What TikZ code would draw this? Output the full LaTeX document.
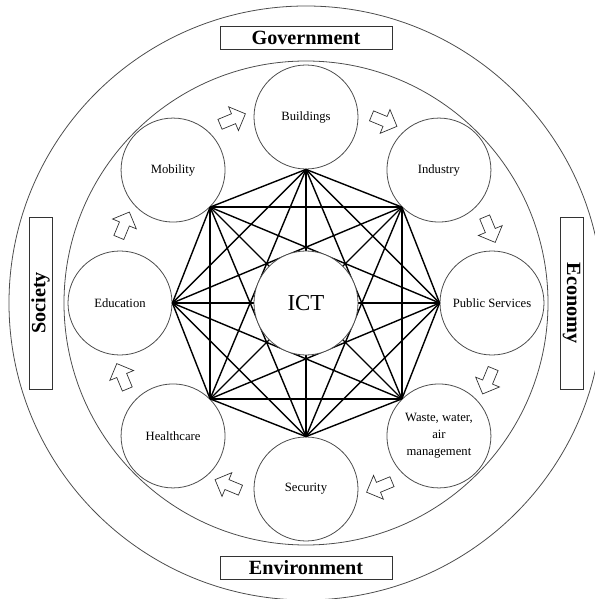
\documentclass[tikz,border=0pt]{standalone}
\usepackage{fontspec}
\setmainfont{Liberation Serif}
\usetikzlibrary{shapes.arrows}

\begin{document}
\begin{tikzpicture}[semithick, every node/.style={inner sep=0pt},
		area/.style={circle, draw=black!70, line width=0.45pt, fill=white, minimum size=2.08cm, align=center, font=\fontsize{7.2}{9.6}\selectfont},
		pillar/.style={draw=black!80, line width=0.45pt, minimum width=3.44cm, minimum height=0.46cm, font=\fontsize{11.5}{13}\selectfont\bfseries},
		flow/.style={single arrow, draw=black!80, line width=0.4pt, fill=white, inner ysep=0.1cm, minimum height=0.55cm, single arrow head extend=0.15cm},
		link/.style={black, line width=0.8pt}]
		\useasboundingbox (-6.12, -5.92) rectangle (5.76, 6.06);
		
		% rings
		\draw[black!70, line width=0.45pt] (0, 0) circle (5.94);
		\draw[black!70, line width=0.45pt] (0, 0) circle (4.84);
		
		\node[pillar] (gov) at (0, 5.3) {Government};
		\node[pillar] (env) at (0, -5.3) {Environment};
		\node[pillar, rotate=90] (soc) at (-5.31, 0) {Society};
		\node[pillar, rotate=-90] (eco) at (5.31, 0) {Economy};
		
		\node[area] (bld) at (90:3.72) {Buildings};
		\node[area] (ind) at (45:3.76) {Industry};
		\node[area] (pub) at (0:3.72) {Public Services};
		\node[area] (wst) at (-45:3.76) {Waste, water,\\air\\management};
		\node[area] (sec) at (-90:3.72) {Security};
		\node[area] (hlt) at (-135:3.76) {Healthcare};
		\node[area] (edu) at (180:3.72) {Education};
		\node[area] (mob) at (135:3.76) {Mobility};
		
		% clockwise arrows
		\node[flow, rotate=22.5] (a1) at (112.5:3.96) {};
		\node[flow, rotate=-22.5] (a2) at (67.5:3.96) {};
		\node[flow, rotate=-67.5] (a3) at (22.5:3.96) {};
		\node[flow, rotate=-112.5] (a4) at (-22.5:3.96) {};
		\node[flow, rotate=-157.5] (a5) at (-67.5:3.96) {};
		\node[flow, rotate=157.5] (a6) at (-112.5:3.96) {};
		\node[flow, rotate=112.5] (a7) at (-157.5:3.96) {};
		\node[flow, rotate=67.5] (a8) at (157.5:3.96) {};
		
		% every area linked to every other
		\path[link] (bld.south) edge (ind.south west) edge (pub.west) edge (wst.north west) edge (sec.north) edge (hlt.north east) edge (edu.east) edge (mob.south east)
			(ind.south west) edge (pub.west) edge (wst.north west) edge (sec.north) edge (hlt.north east) edge (edu.east) edge (mob.south east)
			(pub.west) edge (wst.north west) edge (sec.north) edge (hlt.north east) edge (edu.east) edge (mob.south east)
			(wst.north west) edge (sec.north) edge (hlt.north east) edge (edu.east) edge (mob.south east)
			(sec.north) edge (hlt.north east) edge (edu.east) edge (mob.south east)
			(hlt.north east) edge (edu.east) edge (mob.south east)
			(edu.east) edge (mob.south east);
		
		\node[area, font=\fontsize{13}{15}\selectfont] (ict) at (0, 0) {ICT};
	\end{tikzpicture}
\end{document}
